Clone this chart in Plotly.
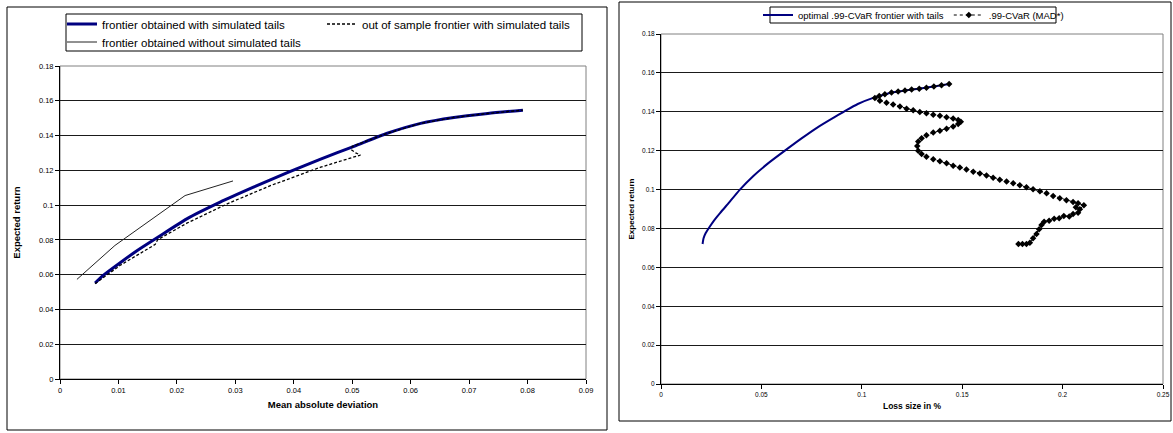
import plotly.graph_objects as go

# ---------------- Left panel data ----------------
sim_x = [0.0060, 0.0074, 0.0103, 0.0131, 0.0166, 0.0217, 0.0274, 0.0331, 0.0389,
         0.0446, 0.0503, 0.0560, 0.0617, 0.0674, 0.0732, 0.0792]
sim_y = [0.0552, 0.0596, 0.0669, 0.0736, 0.0812, 0.0921, 0.1017, 0.1103, 0.1187,
         0.1265, 0.1338, 0.1413, 0.1470, 0.1504, 0.1527, 0.1546]

oos_x = [0.0060, 0.0103, 0.0163, 0.0167, 0.0217, 0.0286, 0.0360, 0.0446, 0.0514,
         0.0506, 0.0499, 0.0500, 0.0560, 0.0617, 0.0674, 0.0732, 0.0792]
oos_y = [0.0548, 0.0654, 0.0774, 0.0801, 0.0896, 0.1007, 0.1112, 0.1218, 0.1288,
         0.1300, 0.1317, 0.1338, 0.1413, 0.1470, 0.1504, 0.1527, 0.1546]

notail_x = [0.0029, 0.0094, 0.0214, 0.0296]
notail_y = [0.0573, 0.0768, 0.1055, 0.1139]

# ---------------- Right panel data ----------------
cvar_x = [0.0207, 0.0212, 0.0222, 0.0240, 0.0262, 0.0295, 0.0330, 0.0393, 0.0460,
          0.0530, 0.0617, 0.0700, 0.0780, 0.0860, 0.0910, 0.0980, 0.1060,
          0.1087, 0.1148, 0.1215, 0.1286, 0.1359, 0.1435]
cvar_y = [0.0720, 0.0750, 0.0775, 0.0805, 0.0838, 0.0880, 0.0922, 0.1000, 0.1070,
          0.1132, 0.1200, 0.1263, 0.1320, 0.1370, 0.1400, 0.1440, 0.1473,
          0.1481, 0.1499, 0.1509, 0.1519, 0.1530, 0.1543]

mad_x = [0.1780, 0.1800, 0.1820, 0.1837, 0.1853, 0.1870, 0.1883, 0.1895, 0.1908,
         0.1933, 0.1958, 0.1983, 0.2006, 0.2033, 0.2052, 0.2077, 0.2066, 0.2086,
         0.2106, 0.2077, 0.2052, 0.2019, 0.1986, 0.1953, 0.1920, 0.1887, 0.1853,
         0.1820, 0.1787, 0.1754, 0.1721, 0.1687, 0.1654, 0.1621, 0.1588, 0.1555,
         0.1521, 0.1488, 0.1455, 0.1422, 0.1389, 0.1356, 0.1322, 0.1298, 0.1281,
         0.1276, 0.1281, 0.1298, 0.1322, 0.1356, 0.1389, 0.1422, 0.1455, 0.1480,
         0.1493, 0.1480, 0.1455, 0.1422, 0.1389, 0.1356, 0.1322, 0.1289, 0.1256,
         0.1223, 0.1190, 0.1156, 0.1123, 0.1090, 0.1065, 0.1087, 0.1115, 0.1148,
         0.1181, 0.1215, 0.1248, 0.1286, 0.1322, 0.1359, 0.1397, 0.1435]
mad_y = [0.0720, 0.0720, 0.0720, 0.0727, 0.0749, 0.0772, 0.0796, 0.0818, 0.0835,
         0.0840, 0.0850, 0.0852, 0.0864, 0.0861, 0.0874, 0.0881, 0.0909, 0.0899,
         0.0919, 0.0929, 0.0936, 0.0945, 0.0955, 0.0967, 0.0981, 0.0991, 0.1001,
         0.1012, 0.1022, 0.1032, 0.1041, 0.1051, 0.1061, 0.1072, 0.1082, 0.1092,
         0.1103, 0.1113, 0.1123, 0.1135, 0.1145, 0.1156, 0.1169, 0.1183, 0.1200,
         0.1224, 0.1247, 0.1264, 0.1279, 0.1293, 0.1303, 0.1313, 0.1324, 0.1337,
         0.1349, 0.1358, 0.1365, 0.1372, 0.1379, 0.1385, 0.1392, 0.1399, 0.1408,
         0.1416, 0.1427, 0.1437, 0.1447, 0.1457, 0.1471, 0.1481, 0.1490, 0.1499,
         0.1504, 0.1509, 0.1514, 0.1519, 0.1524, 0.1530, 0.1536, 0.1543]

left_xticks = [0, 0.01, 0.02, 0.03, 0.04, 0.05, 0.06, 0.07, 0.08, 0.09]
left_yticks = [0, 0.02, 0.04, 0.06, 0.08, 0.1, 0.12, 0.14, 0.16, 0.18]
right_xticks = [0, 0.05, 0.1, 0.15, 0.2, 0.25]

W, H = 1173, 433
FONT = "Liberation Sans, Arial, sans-serif"
NAVY = "#000080"

fig = go.Figure()

fig.add_trace(go.Scatter(x=sim_x, y=sim_y, mode="lines", name="frontier obtained with simulated tails",
                         line=dict(color=NAVY, width=3, shape="spline", smoothing=0.6),
                         xaxis="x", yaxis="y", legend="legend"))
fig.add_trace(go.Scatter(x=oos_x, y=oos_y, mode="lines", name="out of sample frontier with simulated tails",
                         line=dict(color="black", width=1.3, dash="3px,2px"), xaxis="x", yaxis="y", legend="legend"))
fig.add_trace(go.Scatter(x=notail_x, y=notail_y, mode="lines", name="frontier obtained without simulated tails",
                         line=dict(color="#222222", width=1), xaxis="x", yaxis="y", legend="legend3"))

fig.add_trace(go.Scatter(x=cvar_x, y=cvar_y, mode="lines", name="optimal .99-CVaR frontier with tails",
                         line=dict(color=NAVY, width=2, shape="spline", smoothing=0.6),
                         xaxis="x2", yaxis="y2", legend="legend2"))
fig.add_trace(go.Scatter(x=mad_x, y=mad_y, mode="lines+markers", name=".99-CVaR (MAD*)",
                         line=dict(color="black", width=1, dash="dot"),
                         marker=dict(symbol="diamond", size=5, color="black"),
                         xaxis="x2", yaxis="y2", legend="legend2"))


def px_x(v):
    return v / W


def px_y(v):
    return 1 - v / H


def axis_style(tick_size):
    return dict(showgrid=False, zeroline=False, showline=True, linecolor="black", linewidth=1,
                ticks="outside", ticklen=4, tickcolor="black", tickwidth=1, automargin=False,
                tickfont=dict(family=FONT, size=tick_size, color="black"))


def yaxis_style(tick_size):
    d = axis_style(tick_size)
    d.update(showgrid=True, gridcolor="#1a1a1a", gridwidth=1)
    return d


legend_common = dict(xanchor="left", yanchor="middle", orientation="h",
                     bgcolor="rgba(0,0,0,0)", borderwidth=0, itemwidth=30, traceorder="normal")

fig.update_layout(
    width=W, height=H, margin=dict(l=0, r=0, t=0, b=0, autoexpand=False),
    paper_bgcolor="white", plot_bgcolor="white",
    font=dict(family=FONT, color="black"),
    xaxis=dict(domain=[px_x(60), px_x(586)], range=[0, 0.09], tickvals=left_xticks,
               title=dict(text="Mean absolute deviation", font=dict(family=FONT, size=9.5, weight="bold"), standoff=7),
               anchor="y", **axis_style(7.5)),
    yaxis=dict(domain=[px_y(379), px_y(66)], range=[0, 0.18], tickvals=left_yticks,
               title=dict(text="Expected return", font=dict(family=FONT, size=9.5, weight="bold"), standoff=16),
               anchor="x", **yaxis_style(7.5)),
    xaxis2=dict(domain=[px_x(661), px_x(1163)], range=[0, 0.25], tickvals=right_xticks,
                title=dict(text="Loss size in %", font=dict(family=FONT, size=8.5, weight="bold"), standoff=6),
                anchor="y2", **axis_style(6.5)),
    yaxis2=dict(domain=[px_y(384), px_y(34)], range=[0, 0.18], tickvals=left_yticks,
                title=dict(text="Expected return", font=dict(family=FONT, size=8, weight="bold"), standoff=6),
                anchor="x2", **yaxis_style(6.5)),
    legend=dict(x=px_x(62), y=px_y(24), font=dict(family=FONT, size=11.5, color="black"),
                entrywidth=215, entrywidthmode="pixels", **legend_common),
    legend3=dict(x=px_x(62), y=px_y(42), font=dict(family=FONT, size=11.5, color="black"),
                 **legend_common),
    legend2=dict(x=px_x(758), y=px_y(15), font=dict(family=FONT, size=9.5, color="black"),
                 **legend_common),
    shapes=[
        dict(type="rect", xref="paper", yref="paper", x0=px_x(7), x1=px_x(607), y0=px_y(430), y1=px_y(7),
             line=dict(color="black", width=1)),
        dict(type="rect", xref="paper", yref="paper", x0=px_x(619), x1=px_x(1171), y0=px_y(421), y1=px_y(2),
             line=dict(color="black", width=1)),
        dict(type="rect", xref="paper", yref="paper", x0=px_x(66), x1=px_x(582), y0=px_y(51), y1=px_y(14),
             line=dict(color="black", width=1)),
        dict(type="rect", xref="paper", yref="paper", x0=px_x(770), x1=px_x(1056), y0=px_y(23), y1=px_y(7),
             line=dict(color="black", width=1)),
        dict(type="rect", xref="x domain", yref="y domain", x0=0, x1=1, y0=0, y1=1,
             line=dict(color="#808080", width=1), layer="below"),
        dict(type="rect", xref="x2 domain", yref="y2 domain", x0=0, x1=1, y0=0, y1=1,
             line=dict(color="#808080", width=1), layer="below"),
    ],
    showlegend=True,
)

fig.write_html("out.html", config={"displayModeBar": False},
               post_script="document.body.style.margin='0px';document.body.style.padding='0px';")
